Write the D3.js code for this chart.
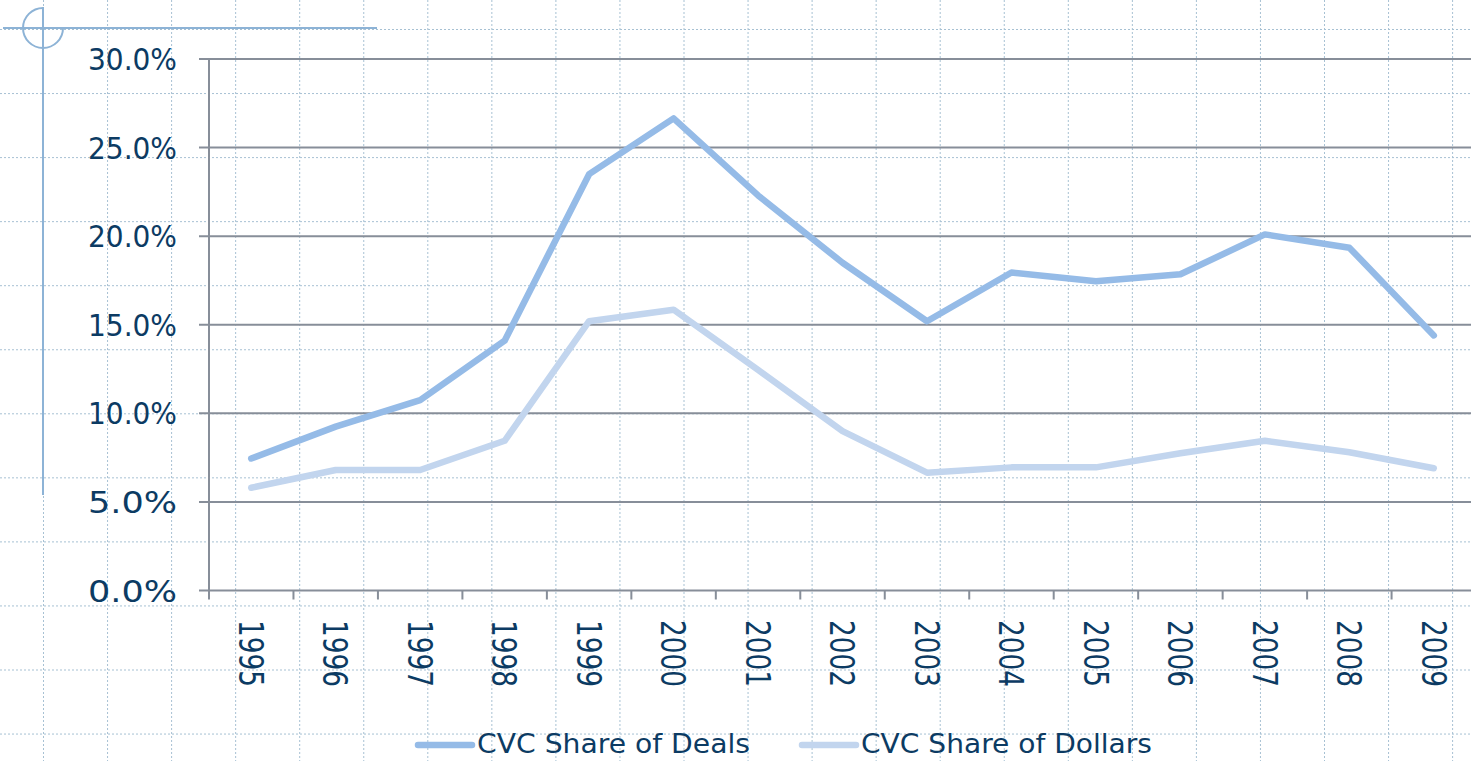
<!DOCTYPE html>
<html>
<head>
<meta charset="utf-8">
<script src="https://cdn.jsdelivr.net/npm/d3@7"></script>
<style>
  body { margin: 0; background: #fff; }
  svg { display: block; }
</style>
</head>
<body>
<svg id="viz"></svg>
<script>
// data
const years = ["1995", "1996", "1997", "1998", "1999", "2000", "2001", "2002",
  "2003", "2004", "2005", "2006", "2007", "2008", "2009"];
const shareDeals = [7.45, 9.25, 10.75, 14.1, 23.5, 26.65, 22.3, 18.5,
  15.2, 17.95, 17.45, 17.85, 20.1, 19.35, 14.4];
const shareDollars = [5.8, 6.8, 6.8, 8.45, 15.2, 15.85, 12.45, 9.0,
  6.65, 6.95, 6.95, 7.75, 8.45, 7.8, 6.9];
const yTicks = [0, 5, 10, 15, 20, 25, 30];
const seriesNames = ["CVC Share of Deals", "CVC Share of Dollars"];

const W = 1471, H = 761;
const textColor = "#0c3b63";
const axisColor = "#878e99";
const font = "'DejaVu Sans Condensed', 'DejaVu Sans', sans-serif";

const svg = d3.select("#viz").attr("width", W).attr("height", H);

// graph-paper background
const paper = svg.append("g")
  .attr("stroke", "#a7c1d3")
  .attr("stroke-width", 1)
  .attr("stroke-dasharray", "2,2");
const step = 64.05;
paper.selectAll("line.v")
  .data(d3.range(0, 23))
  .enter().append("line")
  .attr("x1", d => 43.5 + d * step).attr("x2", d => 43.5 + d * step)
  .attr("y1", 0).attr("y2", H);
paper.selectAll("line.h")
  .data(d3.range(0, 12))
  .enter().append("line")
  .attr("x1", 0).attr("x2", W)
  .attr("y1", d => 29.5 + d * step).attr("y2", d => 29.5 + d * step);

// crosshair decoration top-left
const deco = svg.append("g")
  .attr("stroke", "#8db3d6").attr("stroke-width", 2).attr("fill", "none");
deco.append("line").attr("x1", 3).attr("x2", 377).attr("y1", 28).attr("y2", 28);
deco.append("line").attr("x1", 43).attr("x2", 43).attr("y1", 7).attr("y2", 495);
deco.append("path")
  .attr("transform", "translate(43,28)")
  .attr("d", d3.arc()({ innerRadius: 20, outerRadius: 20, startAngle: Math.PI / 2, endAngle: 2 * Math.PI }));

// scales
const x = d3.scaleBand().domain(years).range([209, 209 + 15 * 84.47]);
const y = d3.scaleLinear().domain([0, 30]).range([590.5, 59]);

// horizontal gridlines + y labels
svg.append("g").selectAll("line")
  .data(yTicks)
  .enter().append("line")
  .attr("x1", 199).attr("x2", W)
  .attr("y1", d => y(d)).attr("y2", d => y(d))
  .attr("stroke", axisColor).attr("stroke-width", 2);

svg.append("g").selectAll("text")
  .data(yTicks)
  .enter().append("text")
  .attr("x", 177)
  .attr("y", d => y(d) + 11)
  .attr("text-anchor", "end")
  .attr("font-family", font)
  .attr("font-size", 31)
  .attr("textLength", 89)
  .attr("lengthAdjust", "spacingAndGlyphs")
  .attr("fill", textColor)
  .text(d => d.toFixed(1) + "%");

// y axis line
svg.append("line")
  .attr("x1", 209).attr("x2", 209)
  .attr("y1", y(30)).attr("y2", y(0) + 9)
  .attr("stroke", axisColor).attr("stroke-width", 2);

// x ticks at category boundaries
svg.append("g").selectAll("line")
  .data(years.slice(1))
  .enter().append("line")
  .attr("x1", d => x(d)).attr("x2", d => x(d))
  .attr("y1", y(0)).attr("y2", y(0) + 9)
  .attr("stroke", axisColor).attr("stroke-width", 2);

// rotated year labels
svg.append("g").selectAll("text")
  .data(years)
  .enter().append("text")
  .attr("transform", d => `translate(${x(d) + x.bandwidth() / 2},620) rotate(90)`)
  .attr("dy", "0.36em")
  .attr("font-family", font)
  .attr("font-size", 34)
  .attr("textLength", 67)
  .attr("lengthAdjust", "spacingAndGlyphs")
  .attr("fill", textColor)
  .text(d => d);

// lines
const line = d3.line()
  .x((d, i) => x(years[i]) + x.bandwidth() / 2)
  .y(d => y(d));

const series = [
  { name: seriesNames[0], values: shareDeals, color: "#95bbe7" },
  { name: seriesNames[1], values: shareDollars, color: "#c2d5ee" }
];

svg.append("g").selectAll("path")
  .data(series.slice().reverse())
  .enter().append("path")
  .attr("d", d => line(d.values))
  .attr("fill", "none")
  .attr("stroke", d => d.color)
  .attr("stroke-width", 6.5)
  .attr("stroke-linejoin", "round")
  .attr("stroke-linecap", "round");

// legend
const legendPos = [
  { lx: 418, tx: 477, tw: 273 },
  { lx: 802, tx: 861, tw: 291 }
];
const legend = svg.append("g").selectAll("g")
  .data(series)
  .enter().append("g");
legend.append("line")
  .attr("x1", (d, i) => legendPos[i].lx).attr("x2", (d, i) => legendPos[i].lx + 54)
  .attr("y1", 745).attr("y2", 745)
  .attr("stroke", d => d.color)
  .attr("stroke-width", 6.5)
  .attr("stroke-linecap", "round");
legend.append("text")
  .attr("x", (d, i) => legendPos[i].tx)
  .attr("y", 753)
  .attr("font-family", font)
  .attr("font-size", 26)
  .attr("textLength", (d, i) => legendPos[i].tw)
  .attr("lengthAdjust", "spacingAndGlyphs")
  .attr("fill", textColor)
  .text(d => d.name);
</script>
</body>
</html>
